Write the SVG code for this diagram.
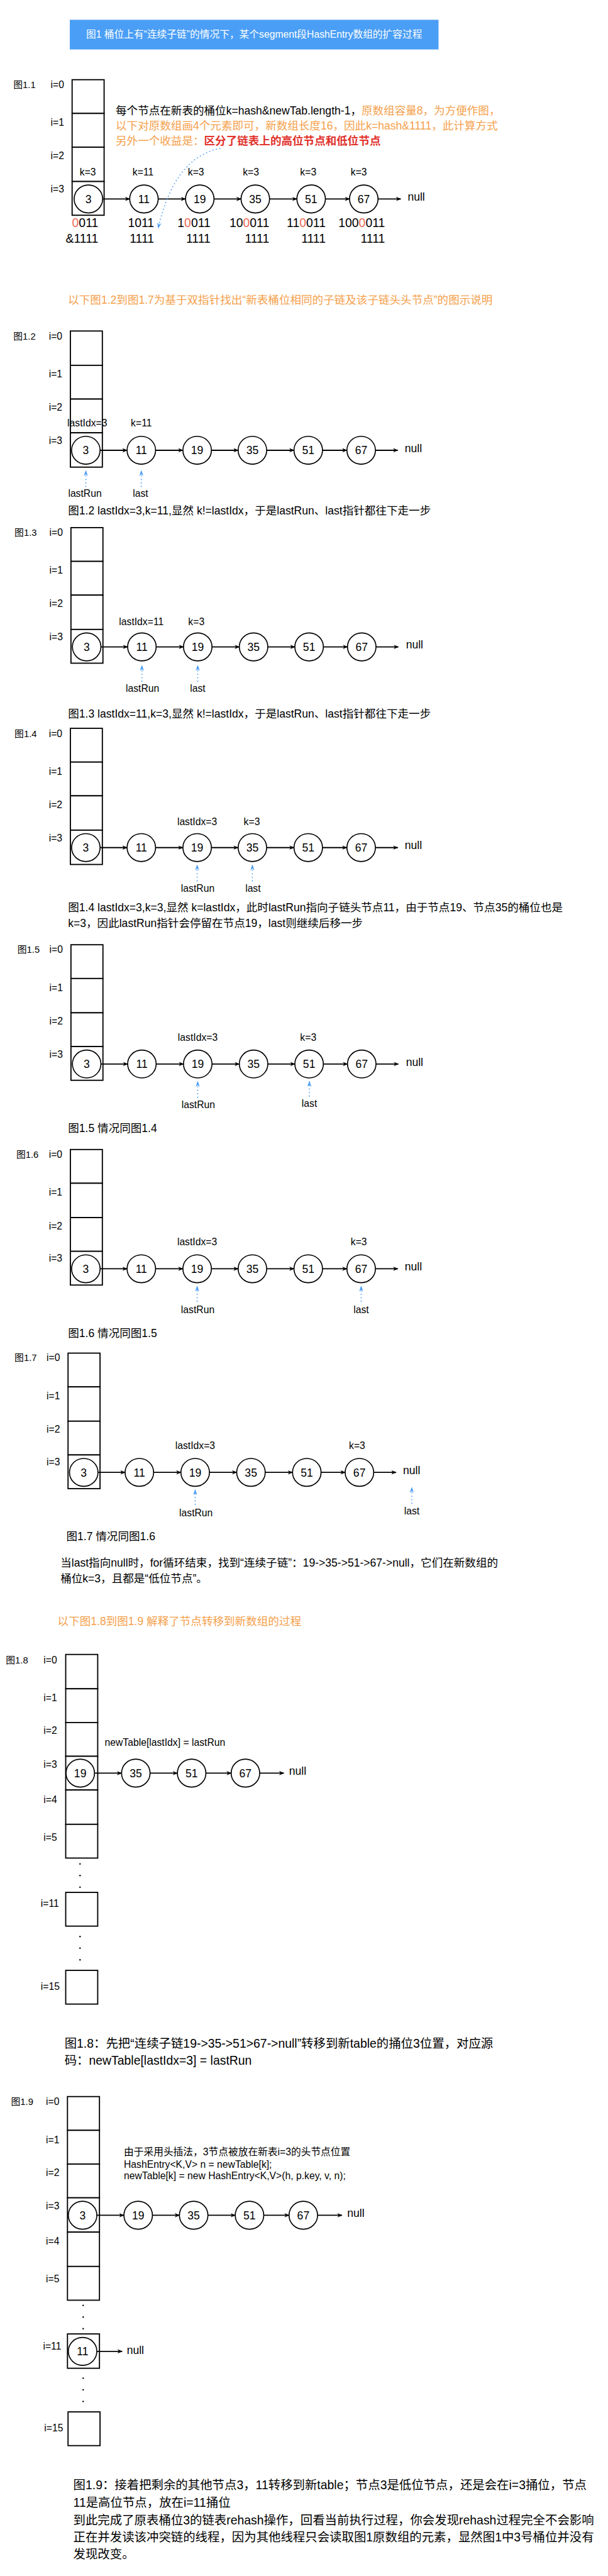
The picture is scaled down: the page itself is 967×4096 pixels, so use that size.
<svg xmlns="http://www.w3.org/2000/svg" width="967" height="4096" viewBox="0 0 967 4096">
<defs>
<style>
text{font-family:"Liberation Sans","Noto Sans CJK SC",sans-serif;fill:#000}
.cell{fill:#fff;stroke:#000;stroke-width:2}
.node ellipse{fill:#fff;stroke:#000;stroke-width:1.8}
.node text{font-size:19px;text-anchor:middle}
.lbl{font-size:17px}
.lc{font-size:17px;text-anchor:middle}
.fig{font-size:16px}
.nul{font-size:19px}
.cap{font-size:19px}
.cap21{font-size:21px}
.bin{font-size:21px;text-anchor:end}
.or{fill:#F5A04B}
.rd{fill:#E1312B;font-weight:bold}
.rb{fill:#EC6A55}
.edge{stroke:#000;stroke-width:2;fill:none;marker-end:url(#ah)}
.ptr{stroke:#4A9DF5;stroke-width:1.6;stroke-dasharray:2 4;fill:none;marker-end:url(#bh)}
.dot{fill:#000}
</style>
<marker id="ah" viewBox="0 0 10 10" refX="9" refY="5" markerWidth="9" markerHeight="9" markerUnits="userSpaceOnUse" orient="auto"><path d="M0,1 L10,5 L0,9 L3,5 z" fill="#000"/></marker>
<marker id="bh" viewBox="0 0 10 10" refX="9" refY="5" markerWidth="10" markerHeight="10" markerUnits="userSpaceOnUse" orient="auto"><path d="M0,1.5 L10,5 L0,8.5 L3,5 z" fill="#4A9DF5"/></marker>
</defs>
<rect x="0" y="0" width="967" height="4096" fill="#fff"/>
<g transform="scale(0.925)">

<!-- Title -->
<g id="title">
<rect x="120" y="34" width="634" height="51" fill="#4A9EF5"/>
<text x="437" y="65" style="font-size:17px;fill:#fff;text-anchor:middle">图1 桶位上有“连续子链”的情况下，某个segment段HashEntry数组的扩容过程</text>
</g>

<!-- ================= Fig 1.1 ================= -->
<g id="fig1-1">
<text class="fig" x="23" y="151">图1.1</text>
<text class="lbl" x="87" y="151">i=0</text>
<text class="lbl" x="87" y="216">i=1</text>
<text class="lbl" x="87" y="273">i=2</text>
<text class="lbl" x="87" y="331">i=3</text>
<g id="f11-array">
<rect class="cell" x="124" y="137" width="55" height="58"/>
<rect class="cell" x="124" y="195" width="55" height="58"/>
<rect class="cell" x="124" y="253" width="55" height="59"/>
<rect class="cell" x="124" y="312" width="55" height="58"/>
</g>
<g id="f11-n3" class="node"><ellipse cx="152" cy="342" rx="24.5" ry="24"/><text x="152" y="349">3</text></g>
<g id="f11-n11" class="node"><ellipse cx="247.5" cy="342" rx="24.5" ry="24"/><text x="247.5" y="349">11</text></g>
<g id="f11-n19" class="node"><ellipse cx="343.5" cy="342" rx="24.5" ry="24"/><text x="343.5" y="349">19</text></g>
<g id="f11-n35" class="node"><ellipse cx="439" cy="342" rx="24.5" ry="24"/><text x="439" y="349">35</text></g>
<g id="f11-n51" class="node"><ellipse cx="535" cy="342" rx="24.5" ry="24"/><text x="535" y="349">51</text></g>
<g id="f11-n67" class="node"><ellipse cx="625.5" cy="342" rx="24.5" ry="24"/><text x="625.5" y="349">67</text></g>
<text class="nul" x="701" y="345">null</text>
<text class="lc" x="151" y="302">k=3</text>
<text class="lc" x="246" y="302">k=11</text>
<text class="lc" x="337" y="302">k=3</text>
<text class="lc" x="431.5" y="302">k=3</text>
<text class="lc" x="530" y="302">k=3</text>
<text class="lc" x="617" y="302">k=3</text>
<text class="bin" x="169" y="390"><tspan class="rb">0</tspan>011</text>
<text class="bin" x="265" y="390">1011</text>
<text class="bin" x="362" y="390">1<tspan class="rb">0</tspan>011</text>
<text class="bin" x="463" y="390">10<tspan class="rb">0</tspan>011</text>
<text class="bin" x="560" y="390">11<tspan class="rb">0</tspan>011</text>
<text class="bin" x="662" y="390">100<tspan class="rb">0</tspan>011</text>
<text class="bin" x="169" y="417">&amp;1111</text>
<text class="bin" x="265" y="417">1111</text>
<text class="bin" x="362" y="417">1111</text>
<text class="bin" x="463" y="417">1111</text>
<text class="bin" x="560" y="417">1111</text>
<text class="bin" x="662" y="417">1111</text>
<text class="cap" x="199" y="197">每个节点在新表的桶位k=hash&amp;newTab.length-1，<tspan class="or">原数组容量8，为方便作图，</tspan></text>
<text class="cap or" x="199" y="223">以下对原数组画4个元素即可，新数组长度16，因此k=hash&amp;1111，此计算方式</text>
<text class="cap or" x="199" y="249">另外一个收益是：<tspan class="rd">区分了链表上的高位节点和低位节点</tspan></text>
</g>
<g id="fig1-1-connectors">
<line class="edge" x1="176.5" y1="342" x2="223" y2="342"/>
<line class="edge" x1="272" y1="342" x2="319" y2="342"/>
<line class="edge" x1="368" y1="342" x2="414.5" y2="342"/>
<line class="edge" x1="463.5" y1="342" x2="510.5" y2="342"/>
<line class="edge" x1="559.5" y1="342" x2="601" y2="342"/>
<line class="edge" x1="650" y1="342" x2="689" y2="342"/>
<path class="ptr" d="M379,255 Q300,270 272,392"/>
</g>

<text class="cap or" x="117" y="522">以下图1.2到图1.7为基于双指针找出“新表桶位相同的子链及该子链头头节点”的图示说明</text>

<!-- ================= Fig 1.2 ================= -->
<g id="fig1-2">
<text class="fig" x="23" y="584">图1.2</text>
<text class="lbl" x="84" y="584">i=0</text>
<text class="lbl" x="84" y="649">i=1</text>
<text class="lbl" x="84" y="706">i=2</text>
<text class="lbl" x="84" y="763">i=3</text>
<g id="f12-array">
<rect class="cell" x="121" y="569" width="55" height="59"/>
<rect class="cell" x="121" y="628" width="55" height="58"/>
<rect class="cell" x="121" y="686" width="55" height="58"/>
<rect class="cell" x="121" y="744" width="55" height="59"/>
</g>
<g id="f12-n3" class="node"><ellipse cx="147.6" cy="774" rx="24.5" ry="24"/><text x="147.6" y="781">3</text></g>
<g id="f12-n11" class="node"><ellipse cx="243" cy="774" rx="24.5" ry="24"/><text x="243" y="781">11</text></g>
<g id="f12-n19" class="node"><ellipse cx="339" cy="774" rx="24.5" ry="24"/><text x="339" y="781">19</text></g>
<g id="f12-n35" class="node"><ellipse cx="434" cy="774" rx="24.5" ry="24"/><text x="434" y="781">35</text></g>
<g id="f12-n51" class="node"><ellipse cx="530" cy="774" rx="24.5" ry="24"/><text x="530" y="781">51</text></g>
<g id="f12-n67" class="node"><ellipse cx="621" cy="774" rx="24.5" ry="24"/><text x="621" y="781">67</text></g>
<text class="nul" x="696" y="777">null</text>
<text class="lc" x="150" y="733">lastIdx=3</text>
<text class="lc" x="243" y="733">k=11</text>
<text class="lc" x="146" y="854">lastRun</text>
<text class="lc" x="241.6" y="854">last</text>
<text class="cap" x="117" y="884">图1.2 lastIdx=3,k=11,显然 k!=lastIdx，于是lastRun、last指针都往下走一步</text>
</g>
<g id="fig1-2-connectors">
<line class="edge" x1="172.1" y1="774" x2="218.5" y2="774"/>
<line class="edge" x1="267.5" y1="774" x2="314.5" y2="774"/>
<line class="edge" x1="363.5" y1="774" x2="409.5" y2="774"/>
<line class="edge" x1="458.5" y1="774" x2="505.5" y2="774"/>
<line class="edge" x1="554.5" y1="774" x2="596.5" y2="774"/>
<line class="edge" x1="645.5" y1="774" x2="684" y2="774"/>
<line class="ptr" x1="147.6" y1="837" x2="147.6" y2="809"/>
<line class="ptr" x1="243" y1="837" x2="243" y2="809"/>
</g>

<!-- ================= Fig 1.3 ================= -->
<g id="fig1-3">
<text class="fig" x="25" y="921">图1.3</text>
<text class="lbl" x="85" y="921">i=0</text>
<text class="lbl" x="85" y="986">i=1</text>
<text class="lbl" x="85" y="1043">i=2</text>
<text class="lbl" x="85" y="1101">i=3</text>
<g id="f13-array">
<rect class="cell" x="122" y="907" width="55" height="58"/>
<rect class="cell" x="122" y="965" width="55" height="58"/>
<rect class="cell" x="122" y="1023" width="55" height="59"/>
<rect class="cell" x="122" y="1082" width="55" height="58"/>
</g>
<g id="f13-n3" class="node"><ellipse cx="149" cy="1112" rx="24.5" ry="24"/><text x="149" y="1119">3</text></g>
<g id="f13-n11" class="node"><ellipse cx="244" cy="1112" rx="24.5" ry="24"/><text x="244" y="1119">11</text></g>
<g id="f13-n19" class="node"><ellipse cx="340" cy="1112" rx="24.5" ry="24"/><text x="340" y="1119">19</text></g>
<g id="f13-n35" class="node"><ellipse cx="436" cy="1112" rx="24.5" ry="24"/><text x="436" y="1119">35</text></g>
<g id="f13-n51" class="node"><ellipse cx="531.5" cy="1112" rx="24.5" ry="24"/><text x="531.5" y="1119">51</text></g>
<g id="f13-n67" class="node"><ellipse cx="622" cy="1112" rx="24.5" ry="24"/><text x="622" y="1119">67</text></g>
<text class="nul" x="698" y="1115">null</text>
<text class="lc" x="243" y="1075">lastIdx=11</text>
<text class="lc" x="337.6" y="1075">k=3</text>
<text class="lc" x="245" y="1189">lastRun</text>
<text class="lc" x="340" y="1189">last</text>
<text class="cap" x="117" y="1233">图1.3 lastIdx=11,k=3,显然 k!=lastIdx，于是lastRun、last指针都往下走一步</text>
</g>
<g id="fig1-3-connectors">
<line class="edge" x1="173.5" y1="1112" x2="219.5" y2="1112"/>
<line class="edge" x1="268.5" y1="1112" x2="315.5" y2="1112"/>
<line class="edge" x1="364.5" y1="1112" x2="411.5" y2="1112"/>
<line class="edge" x1="460.5" y1="1112" x2="507" y2="1112"/>
<line class="edge" x1="556" y1="1112" x2="597.5" y2="1112"/>
<line class="edge" x1="646.5" y1="1112" x2="685" y2="1112"/>
<line class="ptr" x1="244" y1="1172" x2="244" y2="1144"/>
<line class="ptr" x1="340" y1="1172" x2="340" y2="1144"/>
</g>

<!-- ================= Fig 1.4 ================= -->
<g id="fig1-4">
<text class="fig" x="25" y="1267">图1.4</text>
<text class="lbl" x="84" y="1267">i=0</text>
<text class="lbl" x="84" y="1332">i=1</text>
<text class="lbl" x="84" y="1389">i=2</text>
<text class="lbl" x="84" y="1446">i=3</text>
<g id="f14-array">
<rect class="cell" x="121" y="1252" width="55" height="58"/>
<rect class="cell" x="121" y="1310" width="55" height="58"/>
<rect class="cell" x="121" y="1368" width="55" height="59"/>
<rect class="cell" x="121" y="1427" width="55" height="59"/>
</g>
<g id="f14-n3" class="node"><ellipse cx="147.6" cy="1457" rx="24.5" ry="24"/><text x="147.6" y="1464">3</text></g>
<g id="f14-n11" class="node"><ellipse cx="243" cy="1457" rx="24.5" ry="24"/><text x="243" y="1464">11</text></g>
<g id="f14-n19" class="node"><ellipse cx="339" cy="1457" rx="24.5" ry="24"/><text x="339" y="1464">19</text></g>
<g id="f14-n35" class="node"><ellipse cx="434" cy="1457" rx="24.5" ry="24"/><text x="434" y="1464">35</text></g>
<g id="f14-n51" class="node"><ellipse cx="530" cy="1457" rx="24.5" ry="24"/><text x="530" y="1464">51</text></g>
<g id="f14-n67" class="node"><ellipse cx="621" cy="1457" rx="24.5" ry="24"/><text x="621" y="1464">67</text></g>
<text class="nul" x="696" y="1460">null</text>
<text class="lc" x="339" y="1418">lastIdx=3</text>
<text class="lc" x="433" y="1418">k=3</text>
<text class="lc" x="340" y="1533">lastRun</text>
<text class="lc" x="435" y="1533">last</text>
<text class="cap" x="117" y="1566">图1.4 lastIdx=3,k=3,显然 k=lastIdx，此时lastRun指向子链头节点11，由于节点19、节点35的桶位也是</text>
<text class="cap" x="117" y="1594">k=3，因此lastRun指针会停留在节点19，last则继续后移一步</text>
</g>
<g id="fig1-4-connectors">
<line class="edge" x1="172.1" y1="1457" x2="218.5" y2="1457"/>
<line class="edge" x1="267.5" y1="1457" x2="314.5" y2="1457"/>
<line class="edge" x1="363.5" y1="1457" x2="409.5" y2="1457"/>
<line class="edge" x1="458.5" y1="1457" x2="505.5" y2="1457"/>
<line class="edge" x1="554.5" y1="1457" x2="596.5" y2="1457"/>
<line class="edge" x1="645.5" y1="1457" x2="684" y2="1457"/>
<line class="ptr" x1="339" y1="1515" x2="339" y2="1487"/>
<line class="ptr" x1="434" y1="1515" x2="434" y2="1487"/>
</g>

<!-- ================= Fig 1.5 ================= -->
<g id="fig1-5">
<text class="fig" x="30" y="1638">图1.5</text>
<text class="lbl" x="85" y="1638">i=0</text>
<text class="lbl" x="85" y="1704">i=1</text>
<text class="lbl" x="85" y="1761">i=2</text>
<text class="lbl" x="85" y="1818">i=3</text>
<g id="f15-array">
<rect class="cell" x="122" y="1624" width="55" height="58"/>
<rect class="cell" x="122" y="1682" width="55" height="59"/>
<rect class="cell" x="122" y="1741" width="55" height="58"/>
<rect class="cell" x="122" y="1799" width="55" height="58"/>
</g>
<g id="f15-n3" class="node"><ellipse cx="149" cy="1829" rx="24.5" ry="24"/><text x="149" y="1836">3</text></g>
<g id="f15-n11" class="node"><ellipse cx="244" cy="1829" rx="24.5" ry="24"/><text x="244" y="1836">11</text></g>
<g id="f15-n19" class="node"><ellipse cx="340" cy="1829" rx="24.5" ry="24"/><text x="340" y="1836">19</text></g>
<g id="f15-n35" class="node"><ellipse cx="436" cy="1829" rx="24.5" ry="24"/><text x="436" y="1836">35</text></g>
<g id="f15-n51" class="node"><ellipse cx="531.5" cy="1829" rx="24.5" ry="24"/><text x="531.5" y="1836">51</text></g>
<g id="f15-n67" class="node"><ellipse cx="622" cy="1829" rx="24.5" ry="24"/><text x="622" y="1836">67</text></g>
<text class="nul" x="698" y="1832">null</text>
<text class="lc" x="340" y="1789">lastIdx=3</text>
<text class="lc" x="530" y="1789">k=3</text>
<text class="lc" x="341" y="1905">lastRun</text>
<text class="lc" x="532" y="1903">last</text>
<text class="cap" x="117" y="1946">图1.5 情况同图1.4</text>
</g>
<g id="fig1-5-connectors">
<line class="edge" x1="173.5" y1="1829" x2="219.5" y2="1829"/>
<line class="edge" x1="268.5" y1="1829" x2="315.5" y2="1829"/>
<line class="edge" x1="364.5" y1="1829" x2="411.5" y2="1829"/>
<line class="edge" x1="460.5" y1="1829" x2="507" y2="1829"/>
<line class="edge" x1="556" y1="1829" x2="597.5" y2="1829"/>
<line class="edge" x1="646.5" y1="1829" x2="685" y2="1829"/>
<line class="ptr" x1="340" y1="1887" x2="340" y2="1859"/>
<line class="ptr" x1="532" y1="1885" x2="532" y2="1859"/>
</g>

<!-- ================= Fig 1.6 ================= -->
<g id="fig1-6">
<text class="fig" x="28" y="1990">图1.6</text>
<text class="lbl" x="84" y="1990">i=0</text>
<text class="lbl" x="84" y="2055">i=1</text>
<text class="lbl" x="84" y="2113">i=2</text>
<text class="lbl" x="84" y="2169">i=3</text>
<g id="f16-array">
<rect class="cell" x="121" y="1976" width="55" height="58"/>
<rect class="cell" x="121" y="2034" width="55" height="59"/>
<rect class="cell" x="121" y="2093" width="55" height="58"/>
<rect class="cell" x="121" y="2151" width="55" height="58"/>
</g>
<g id="f16-n3" class="node"><ellipse cx="147.6" cy="2181" rx="24.5" ry="24"/><text x="147.6" y="2188">3</text></g>
<g id="f16-n11" class="node"><ellipse cx="243" cy="2181" rx="24.5" ry="24"/><text x="243" y="2188">11</text></g>
<g id="f16-n19" class="node"><ellipse cx="339" cy="2181" rx="24.5" ry="24"/><text x="339" y="2188">19</text></g>
<g id="f16-n35" class="node"><ellipse cx="434" cy="2181" rx="24.5" ry="24"/><text x="434" y="2188">35</text></g>
<g id="f16-n51" class="node"><ellipse cx="530" cy="2181" rx="24.5" ry="24"/><text x="530" y="2188">51</text></g>
<g id="f16-n67" class="node"><ellipse cx="621" cy="2181" rx="24.5" ry="24"/><text x="621" y="2188">67</text></g>
<text class="nul" x="696" y="2184">null</text>
<text class="lc" x="339" y="2141">lastIdx=3</text>
<text class="lc" x="617" y="2141">k=3</text>
<text class="lc" x="340" y="2257">lastRun</text>
<text class="lc" x="621" y="2257">last</text>
<text class="cap" x="117" y="2298">图1.6 情况同图1.5</text>
</g>
<g id="fig1-6-connectors">
<line class="edge" x1="172.1" y1="2181" x2="218.5" y2="2181"/>
<line class="edge" x1="267.5" y1="2181" x2="314.5" y2="2181"/>
<line class="edge" x1="363.5" y1="2181" x2="409.5" y2="2181"/>
<line class="edge" x1="458.5" y1="2181" x2="505.5" y2="2181"/>
<line class="edge" x1="554.5" y1="2181" x2="596.5" y2="2181"/>
<line class="edge" x1="645.5" y1="2181" x2="684" y2="2181"/>
<line class="ptr" x1="339" y1="2238" x2="339" y2="2211"/>
<line class="ptr" x1="621" y1="2238" x2="621" y2="2211"/>
</g>

<!-- ================= Fig 1.7 ================= -->
<g id="fig1-7">
<text class="fig" x="25" y="2340">图1.7</text>
<text class="lbl" x="80" y="2340">i=0</text>
<text class="lbl" x="80" y="2405">i=1</text>
<text class="lbl" x="80" y="2463">i=2</text>
<text class="lbl" x="80" y="2519">i=3</text>
<g id="f17-array">
<rect class="cell" x="117" y="2326" width="55" height="58"/>
<rect class="cell" x="117" y="2384" width="55" height="59"/>
<rect class="cell" x="117" y="2443" width="55" height="58"/>
<rect class="cell" x="117" y="2501" width="55" height="58"/>
</g>
<g id="f17-n3" class="node"><ellipse cx="144" cy="2531" rx="24.5" ry="24"/><text x="144" y="2538">3</text></g>
<g id="f17-n11" class="node"><ellipse cx="239.6" cy="2531" rx="24.5" ry="24"/><text x="239.6" y="2538">11</text></g>
<g id="f17-n19" class="node"><ellipse cx="335.6" cy="2531" rx="24.5" ry="24"/><text x="335.6" y="2538">19</text></g>
<g id="f17-n35" class="node"><ellipse cx="431.5" cy="2531" rx="24.5" ry="24"/><text x="431.5" y="2538">35</text></g>
<g id="f17-n51" class="node"><ellipse cx="527.5" cy="2531" rx="24.5" ry="24"/><text x="527.5" y="2538">51</text></g>
<g id="f17-n67" class="node"><ellipse cx="618" cy="2531" rx="24.5" ry="24"/><text x="618" y="2538">67</text></g>
<text class="nul" x="693" y="2534">null</text>
<text class="lc" x="335.6" y="2491">lastIdx=3</text>
<text class="lc" x="614" y="2491">k=3</text>
<text class="lc" x="337" y="2607">lastRun</text>
<text class="lc" x="708" y="2603">last</text>
<text class="cap" x="114" y="2648">图1.7 情况同图1.6</text>
<text class="cap" x="104" y="2693">当last指向null时，for循环结束，找到“连续子链”：19-&gt;35-&gt;51-&gt;67-&gt;null，它们在新数组的</text>
<text class="cap" x="104" y="2720">桶位k=3，且都是“低位节点”。</text>
</g>
<g id="fig1-7-connectors">
<line class="edge" x1="168.5" y1="2531" x2="215" y2="2531"/>
<line class="edge" x1="264" y1="2531" x2="311" y2="2531"/>
<line class="edge" x1="360" y1="2531" x2="407" y2="2531"/>
<line class="edge" x1="456" y1="2531" x2="503" y2="2531"/>
<line class="edge" x1="552" y1="2531" x2="593.5" y2="2531"/>
<line class="edge" x1="642.5" y1="2531" x2="681" y2="2531"/>
<line class="ptr" x1="335.6" y1="2587" x2="335.6" y2="2561"/>
<line class="ptr" x1="708" y1="2585" x2="708" y2="2557"/>
</g>

<text class="cap or" x="99" y="2793">以下图1.8到图1.9 解释了节点转移到新数组的过程</text>

<!-- ================= Fig 1.8 ================= -->
<g id="fig1-8">
<text class="fig" x="10" y="2859">图1.8</text>
<text class="lbl" x="75" y="2859">i=0</text>
<text class="lbl" x="75" y="2924">i=1</text>
<text class="lbl" x="75" y="2981">i=2</text>
<text class="lbl" x="75" y="3039">i=3</text>
<text class="lbl" x="75" y="3099">i=4</text>
<text class="lbl" x="75" y="3164">i=5</text>
<text class="lbl" x="70" y="3278">i=11</text>
<text class="lbl" x="70" y="3421">i=15</text>
<g id="f18-array">
<rect class="cell" x="113" y="2844" width="55" height="59"/>
<rect class="cell" x="113" y="2903" width="55" height="58"/>
<rect class="cell" x="113" y="2961" width="55" height="58"/>
<rect class="cell" x="113" y="3019" width="55" height="58"/>
<rect class="cell" x="113" y="3077" width="55" height="59"/>
<rect class="cell" x="113" y="3136" width="55" height="58"/>
<circle class="dot" cx="137.6" cy="3204" r="1.3"/>
<circle class="dot" cx="137.6" cy="3224" r="1.3"/>
<circle class="dot" cx="137.6" cy="3244" r="1.3"/>
<rect class="cell" x="113" y="3253" width="55" height="58"/>
<circle class="dot" cx="137.6" cy="3329" r="1.3"/>
<circle class="dot" cx="137.6" cy="3349" r="1.3"/>
<circle class="dot" cx="137.6" cy="3369" r="1.3"/>
<rect class="cell" x="113" y="3387" width="55" height="58"/>
</g>
<g id="f18-n19" class="node"><ellipse cx="138" cy="3048" rx="24.5" ry="24"/><text x="138" y="3055">19</text></g>
<g id="f18-n35" class="node"><ellipse cx="233.5" cy="3048" rx="24.5" ry="24"/><text x="233.5" y="3055">35</text></g>
<g id="f18-n51" class="node"><ellipse cx="329.5" cy="3048" rx="24.5" ry="24"/><text x="329.5" y="3055">51</text></g>
<g id="f18-n67" class="node"><ellipse cx="422" cy="3048" rx="24.5" ry="24"/><text x="422" y="3055">67</text></g>
<text class="nul" x="497" y="3051">null</text>
<text class="lbl" x="180" y="3001">newTable[lastIdx] = lastRun</text>
<text class="cap21" x="111" y="3520">图1.8：先把“连续子链19-&gt;35-&gt;51&gt;67-&gt;null”转移到新table的捅位3位置，对应源</text>
<text class="cap21" x="111" y="3549">码：newTable[lastIdx=3] = lastRun</text>
</g>
<g id="fig1-8-connectors">
<line class="edge" x1="162.5" y1="3048" x2="209" y2="3048"/>
<line class="edge" x1="258" y1="3048" x2="305" y2="3048"/>
<line class="edge" x1="354" y1="3048" x2="397.5" y2="3048"/>
<line class="edge" x1="446.5" y1="3048" x2="488" y2="3048"/>
</g>

<!-- ================= Fig 1.9 ================= -->
<g id="fig1-9">
<text class="fig" x="19" y="3618">图1.9</text>
<text class="lbl" x="79" y="3618">i=0</text>
<text class="lbl" x="79" y="3684">i=1</text>
<text class="lbl" x="79" y="3741">i=2</text>
<text class="lbl" x="79" y="3798">i=3</text>
<text class="lbl" x="79" y="3858">i=4</text>
<text class="lbl" x="79" y="3923">i=5</text>
<text class="lbl" x="74" y="4039">i=11</text>
<text class="lbl" x="76" y="4180">i=15</text>
<g id="f19-array">
<rect class="cell" x="116" y="3604" width="55" height="58"/>
<rect class="cell" x="116" y="3662" width="55" height="58"/>
<rect class="cell" x="116" y="3720" width="55" height="58"/>
<rect class="cell" x="116" y="3778" width="55" height="59"/>
<rect class="cell" x="116" y="3837" width="55" height="59"/>
<rect class="cell" x="116" y="3896" width="55" height="58"/>
<circle class="dot" cx="143" cy="3963" r="1.3"/>
<circle class="dot" cx="143" cy="3983" r="1.3"/>
<circle class="dot" cx="143" cy="4003" r="1.3"/>
<rect class="cell" x="116" y="4012" width="55" height="59"/>
<circle class="dot" cx="143" cy="4088" r="1.3"/>
<circle class="dot" cx="143" cy="4108" r="1.3"/>
<circle class="dot" cx="143" cy="4128" r="1.3"/>
<rect class="cell" x="117" y="4146" width="55" height="58"/>
</g>
<g id="f19-n3" class="node"><ellipse cx="142" cy="3808" rx="24.5" ry="24"/><text x="142" y="3815">3</text></g>
<g id="f19-n19" class="node"><ellipse cx="237.6" cy="3808" rx="24.5" ry="24"/><text x="237.6" y="3815">19</text></g>
<g id="f19-n35" class="node"><ellipse cx="333" cy="3808" rx="24.5" ry="24"/><text x="333" y="3815">35</text></g>
<g id="f19-n51" class="node"><ellipse cx="429" cy="3808" rx="24.5" ry="24"/><text x="429" y="3815">51</text></g>
<g id="f19-n67" class="node"><ellipse cx="521.5" cy="3808" rx="24.5" ry="24"/><text x="521.5" y="3815">67</text></g>
<text class="nul" x="597" y="3811">null</text>
<g id="f19-n11" class="node"><ellipse cx="142" cy="4042" rx="24.5" ry="24"/><text x="142" y="4049">11</text></g>
<text class="nul" x="218" y="4047">null</text>
<text class="lbl" x="213" y="3705">由于采用头插法，3节点被放在新表i=3的头节点位置</text>
<text class="lbl" x="213" y="3727">HashEntry&lt;K,V&gt; n = newTable[k];</text>
<text class="lbl" x="213" y="3746">newTable[k] = new HashEntry&lt;K,V&gt;(h, p.key, v, n);</text>
<text class="cap21" x="126" y="4279">图1.9：接着把剩余的其他节点3，11转移到新table；节点3是低位节点，还是会在i=3捅位，节点</text>
<text class="cap21" x="126" y="4309">11是高位节点，放在i=11捅位</text>
<text class="cap21" x="126" y="4339">到此完成了原表桶位3的链表rehash操作，回看当前执行过程，你会发现rehash过程完全不会影响</text>
<text class="cap21" x="126" y="4369">正在并发读该冲突链的线程，因为其他线程只会读取图1原数组的元素，显然图1中3号桶位并没有</text>
<text class="cap21" x="126" y="4398">发现改变。</text>
</g>
<g id="fig1-9-connectors">
<line class="edge" x1="166.5" y1="3808" x2="213" y2="3808"/>
<line class="edge" x1="262" y1="3808" x2="308.5" y2="3808"/>
<line class="edge" x1="357.5" y1="3808" x2="404.5" y2="3808"/>
<line class="edge" x1="453.5" y1="3808" x2="497" y2="3808"/>
<line class="edge" x1="546" y1="3808" x2="588" y2="3808"/>
<line class="edge" x1="166.5" y1="4042" x2="210" y2="4042"/>
</g>

</g>
</svg>
